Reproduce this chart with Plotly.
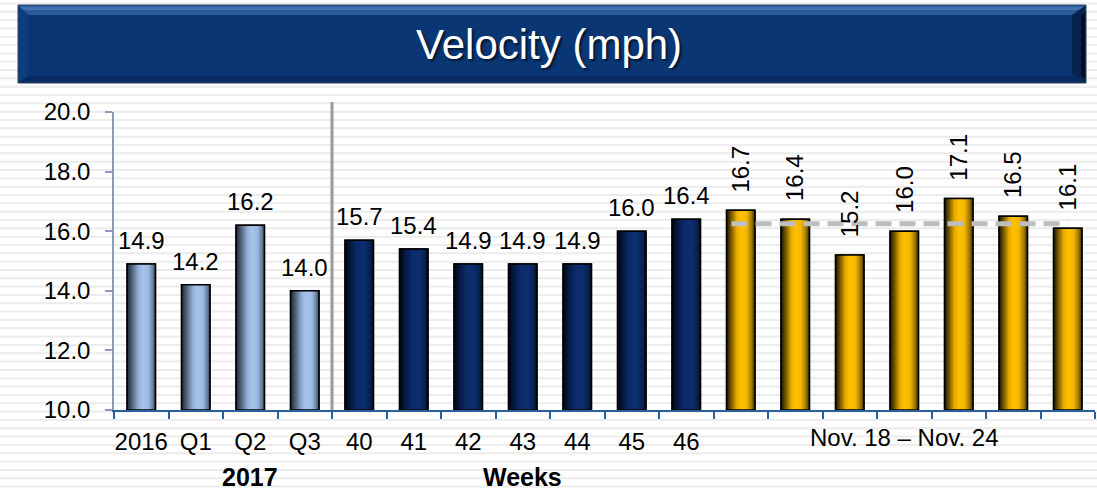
import plotly.graph_objects as go

# ---- data -------------------------------------------------------------
period_labels = ["2016", "Q1", "Q2", "Q3"]
period_velocity = [14.9, 14.2, 16.2, 14.0]

week_labels = ["40", "41", "42", "43", "44", "45", "46"]
week_velocity = [15.7, 15.4, 14.9, 14.9, 14.9, 16.0, 16.4]

day_labels = ["Nov. 18", "Nov. 19", "Nov. 20", "Nov. 21", "Nov. 22", "Nov. 23", "Nov. 24"]
day_velocity = [16.7, 16.4, 15.2, 16.0, 17.1, 16.5, 16.1]
day_reference = 16.25

y_ticks = [10, 12, 14, 16, 18, 20]
y_min, y_max = 10, 20

# ---- page geometry ----------------------------------------------------
W, H = 1097, 492
M_L, M_R, M_T, M_B = 114, 2, 112, 82
PLOT_W = W - M_L - M_R
PLOT_H = H - M_T - M_B
FONT = "Liberation Sans, Arial, sans-serif"
LABEL_SIZE = 24
BAR_W = 0.52


def px_x(px):
    return (px - M_L) / PLOT_W


def px_y(py):
    return (H - M_B - py) / PLOT_H


# gradient fills for the three bar groups
scale_period = [[0, "#1c2430"], [0.15, "#4a5a70"], [0.4, "#93b0d8"], [0.55, "#a5c3ec"],
                [0.75, "#9dbbe2"], [0.9, "#6d83a2"], [1, "#3c4658"]]
scale_week = [[0, "#000510"], [0.2, "#051a45"], [0.45, "#0b2c6c"], [0.7, "#0c2d6e"],
              [0.9, "#07204f"], [1, "#020a1e"]]
scale_day = [[0, "#1a1400"], [0.15, "#6e5300"], [0.35, "#e6aa00"], [0.5, "#ffc000"],
             [0.7, "#f5b800"], [0.88, "#a07800"], [1, "#3a2c00"]]

groups = [
    (period_labels, period_velocity, scale_period, "#a5c3ec", False, True),
    (week_labels, week_velocity, scale_week, "#0b2c6c", False, True),
    (day_labels, day_velocity, scale_day, "#ffc000", True, False),
]

fig = go.Figure()
annotations = []
tickvals, ticktext = [], []
group_x = []
start = 0
for labels, values, cscale, base_col, rotated, show_tick in groups:
    xs = list(range(start, start + len(values)))
    group_x.append(xs)
    start += len(values)
    tickvals += xs
    ticktext += labels if show_tick else [""] * len(labels)

    fig.add_trace(go.Bar(
        x=xs, y=values, width=BAR_W,
        marker=dict(color=base_col, line=dict(color="black", width=1.5)),
        hoverinfo="skip", showlegend=False,
    ))
    half = BAR_W / 2
    for x, v in zip(xs, values):
        fig.add_trace(go.Scatter(
            x=[x - half, x + half, x + half, x - half, x - half],
            y=[y_min, y_min, v, v, y_min],
            mode="lines", fill="toself",
            fillgradient=dict(type="horizontal", colorscale=cscale),
            line=dict(color="black", width=1.5),
            hoverinfo="skip", showlegend=False,
        ))
        if rotated:
            annotations.append(dict(
                x=x, y=v, xref="x", yref="y", text=f"{v:.1f}", showarrow=False,
                textangle=-90, yanchor="bottom", xanchor="center", yshift=16,
                font=dict(family=FONT, size=LABEL_SIZE, color="black"),
            ))
        else:
            annotations.append(dict(
                x=x, y=v, xref="x", yref="y", text=f"{v:.1f}", showarrow=False,
                yanchor="bottom", xanchor="center", yshift=8,
                font=dict(family=FONT, size=LABEL_SIZE, color="black"),
            ))

period_x, week_x, day_x = group_x

# average line over the daily bars
fig.add_trace(go.Scatter(
    x=[day_x[0] - 0.17, day_x[-1]], y=[day_reference, day_reference],
    mode="lines", line=dict(color="#bebebe", width=5, dash="16px,8px"),
    hoverinfo="skip", showlegend=False,
))

# group captions under the axis
annotations += [
    dict(x=sum(day_x) / len(day_x), y=px_y(437), xref="x", yref="paper",
         text="Nov. 18 \u2013 Nov. 24", showarrow=False, yanchor="middle",
         font=dict(family=FONT, size=LABEL_SIZE, color="black")),
    dict(x=sum(period_x[1:]) / len(period_x[1:]), y=px_y(477), xref="x", yref="paper",
         text="<b>2017</b>", showarrow=False, yanchor="middle",
         font=dict(family=FONT, size=25, color="black")),
    dict(x=sum(week_x) / len(week_x), y=px_y(477), xref="x", yref="paper",
         text="<b>Weeks</b>", showarrow=False, yanchor="middle",
         font=dict(family=FONT, size=25, color="black")),
]

# banner title with a soft text shadow
annotations.append(
    dict(x=px_x(549), y=px_y(45), xref="paper", yref="paper", text="Velocity (mph)",
         showarrow=False, xanchor="center", yanchor="middle",
         font=dict(family=FONT, size=42, color="white",
                   shadow="2px 2px 2px rgba(0,0,0,0.6)")),
)

# ---- decorative shapes ------------------------------------------------
shapes = []

# pinstripe background
stripe_path = ""
k = 0
while True:
    yy = 3.4 + 8.33 * k
    if yy > H:
        break
    stripe_path += f"M{px_x(0):.5f},{px_y(yy):.5f} L{px_x(W):.5f},{px_y(yy):.5f} "
    k += 1
shapes.append(dict(type="path", path=stripe_path, xref="paper", yref="paper",
                   line=dict(color="#ececec", width=2), layer="below"))


def poly(points, color):
    d = "M" + " L".join(f"{px_x(a):.5f},{px_y(b):.5f}" for a, b in points) + " Z"
    return dict(type="path", path=d, xref="paper", yref="paper",
                fillcolor=color, line=dict(width=0), layer="above")


bx0, by0, bx1, by1, bv = 18, 5, 1086, 83, 10
shapes.append(poly([(bx0, by0), (bx1, by0), (bx1, by1), (bx0, by1)], "#0a3674"))
shapes.append(poly([(bx0, by0), (bx1, by0), (bx1 - bv, by0 + bv), (bx0 + bv, by0 + bv)], "#2a5a9a"))
shapes.append(poly([(bx0, by0 + 2), (bx1, by0 + 2), (bx1 - 2, by0 + 5), (bx0 + 2, by0 + 5)], "#4272b2"))
shapes.append(poly([(bx1, by0), (bx1, by1), (bx1 - bv - 4, by1 - bv), (bx1 - bv - 4, by0 + bv)], "#06234f"))
shapes.append(poly([(bx1, by0 + 6), (bx1, by1 - 4), (bx1 - 5, by1 - 8), (bx1 - 5, by0 + 11)], "#020e26"))
shapes.append(poly([(bx0, by1), (bx1, by1), (bx1 - bv, by1 - 7), (bx0 + bv, by1 - 7)], "#072b60"))
shapes.append(poly([(bx0, by0), (bx0 + bv, by0 + bv), (bx0 + bv, by1 - 7), (bx0, by1)], "#0d3d7f"))
shapes.append(dict(type="rect", xref="paper", yref="paper",
                   x0=px_x(bx0), x1=px_x(bx1), y0=px_y(by1), y1=px_y(by0),
                   line=dict(color="#33465f", width=1), fillcolor="rgba(0,0,0,0)", layer="above"))

# divider between the yearly and weekly groups
div_x = len(period_velocity) - 0.5
shapes.append(dict(type="line", xref="x", yref="paper", x0=div_x, x1=div_x,
                   y0=0, y1=px_y(102), line=dict(color="#9a9a9a", width=3)))

fig.update_layout(
    width=W, height=H,
    margin=dict(l=M_L, r=M_R, t=M_T, b=M_B, pad=0),
    paper_bgcolor="white", plot_bgcolor="rgba(0,0,0,0)",
    barmode="overlay", showlegend=False,
    font=dict(family=FONT, size=LABEL_SIZE, color="black"),
    annotations=annotations, shapes=shapes,
    xaxis=dict(
        range=[-0.5, start - 0.5], tickmode="array", tickvals=tickvals, ticktext=ticktext,
        ticks="", showgrid=False, zeroline=False, fixedrange=True,
        showline=True, linecolor="#2b5f9e", linewidth=2,
        tickfont=dict(family=FONT, size=LABEL_SIZE, color="black"), ticklabelstandoff=9,
        minor=dict(tickmode="array", tickvals=[v - 0.5 for v in range(start + 1)],
                   ticks="outside", ticklen=7, tickwidth=1.5, tickcolor="#2b5f9e"),
    ),
    yaxis=dict(
        range=[y_min, y_max], tickmode="array", tickvals=y_ticks, tickformat=".1f",
        ticks="outside", ticklen=7, tickwidth=1.5, tickcolor="#8a9bbd",
        showline=True, linecolor="#8a9bbd", linewidth=1.5,
        showgrid=False, zeroline=False, fixedrange=True,
        tickfont=dict(family=FONT, size=LABEL_SIZE, color="black"), ticklabelstandoff=10,
    ),
)

fig.write_html("out.html")
